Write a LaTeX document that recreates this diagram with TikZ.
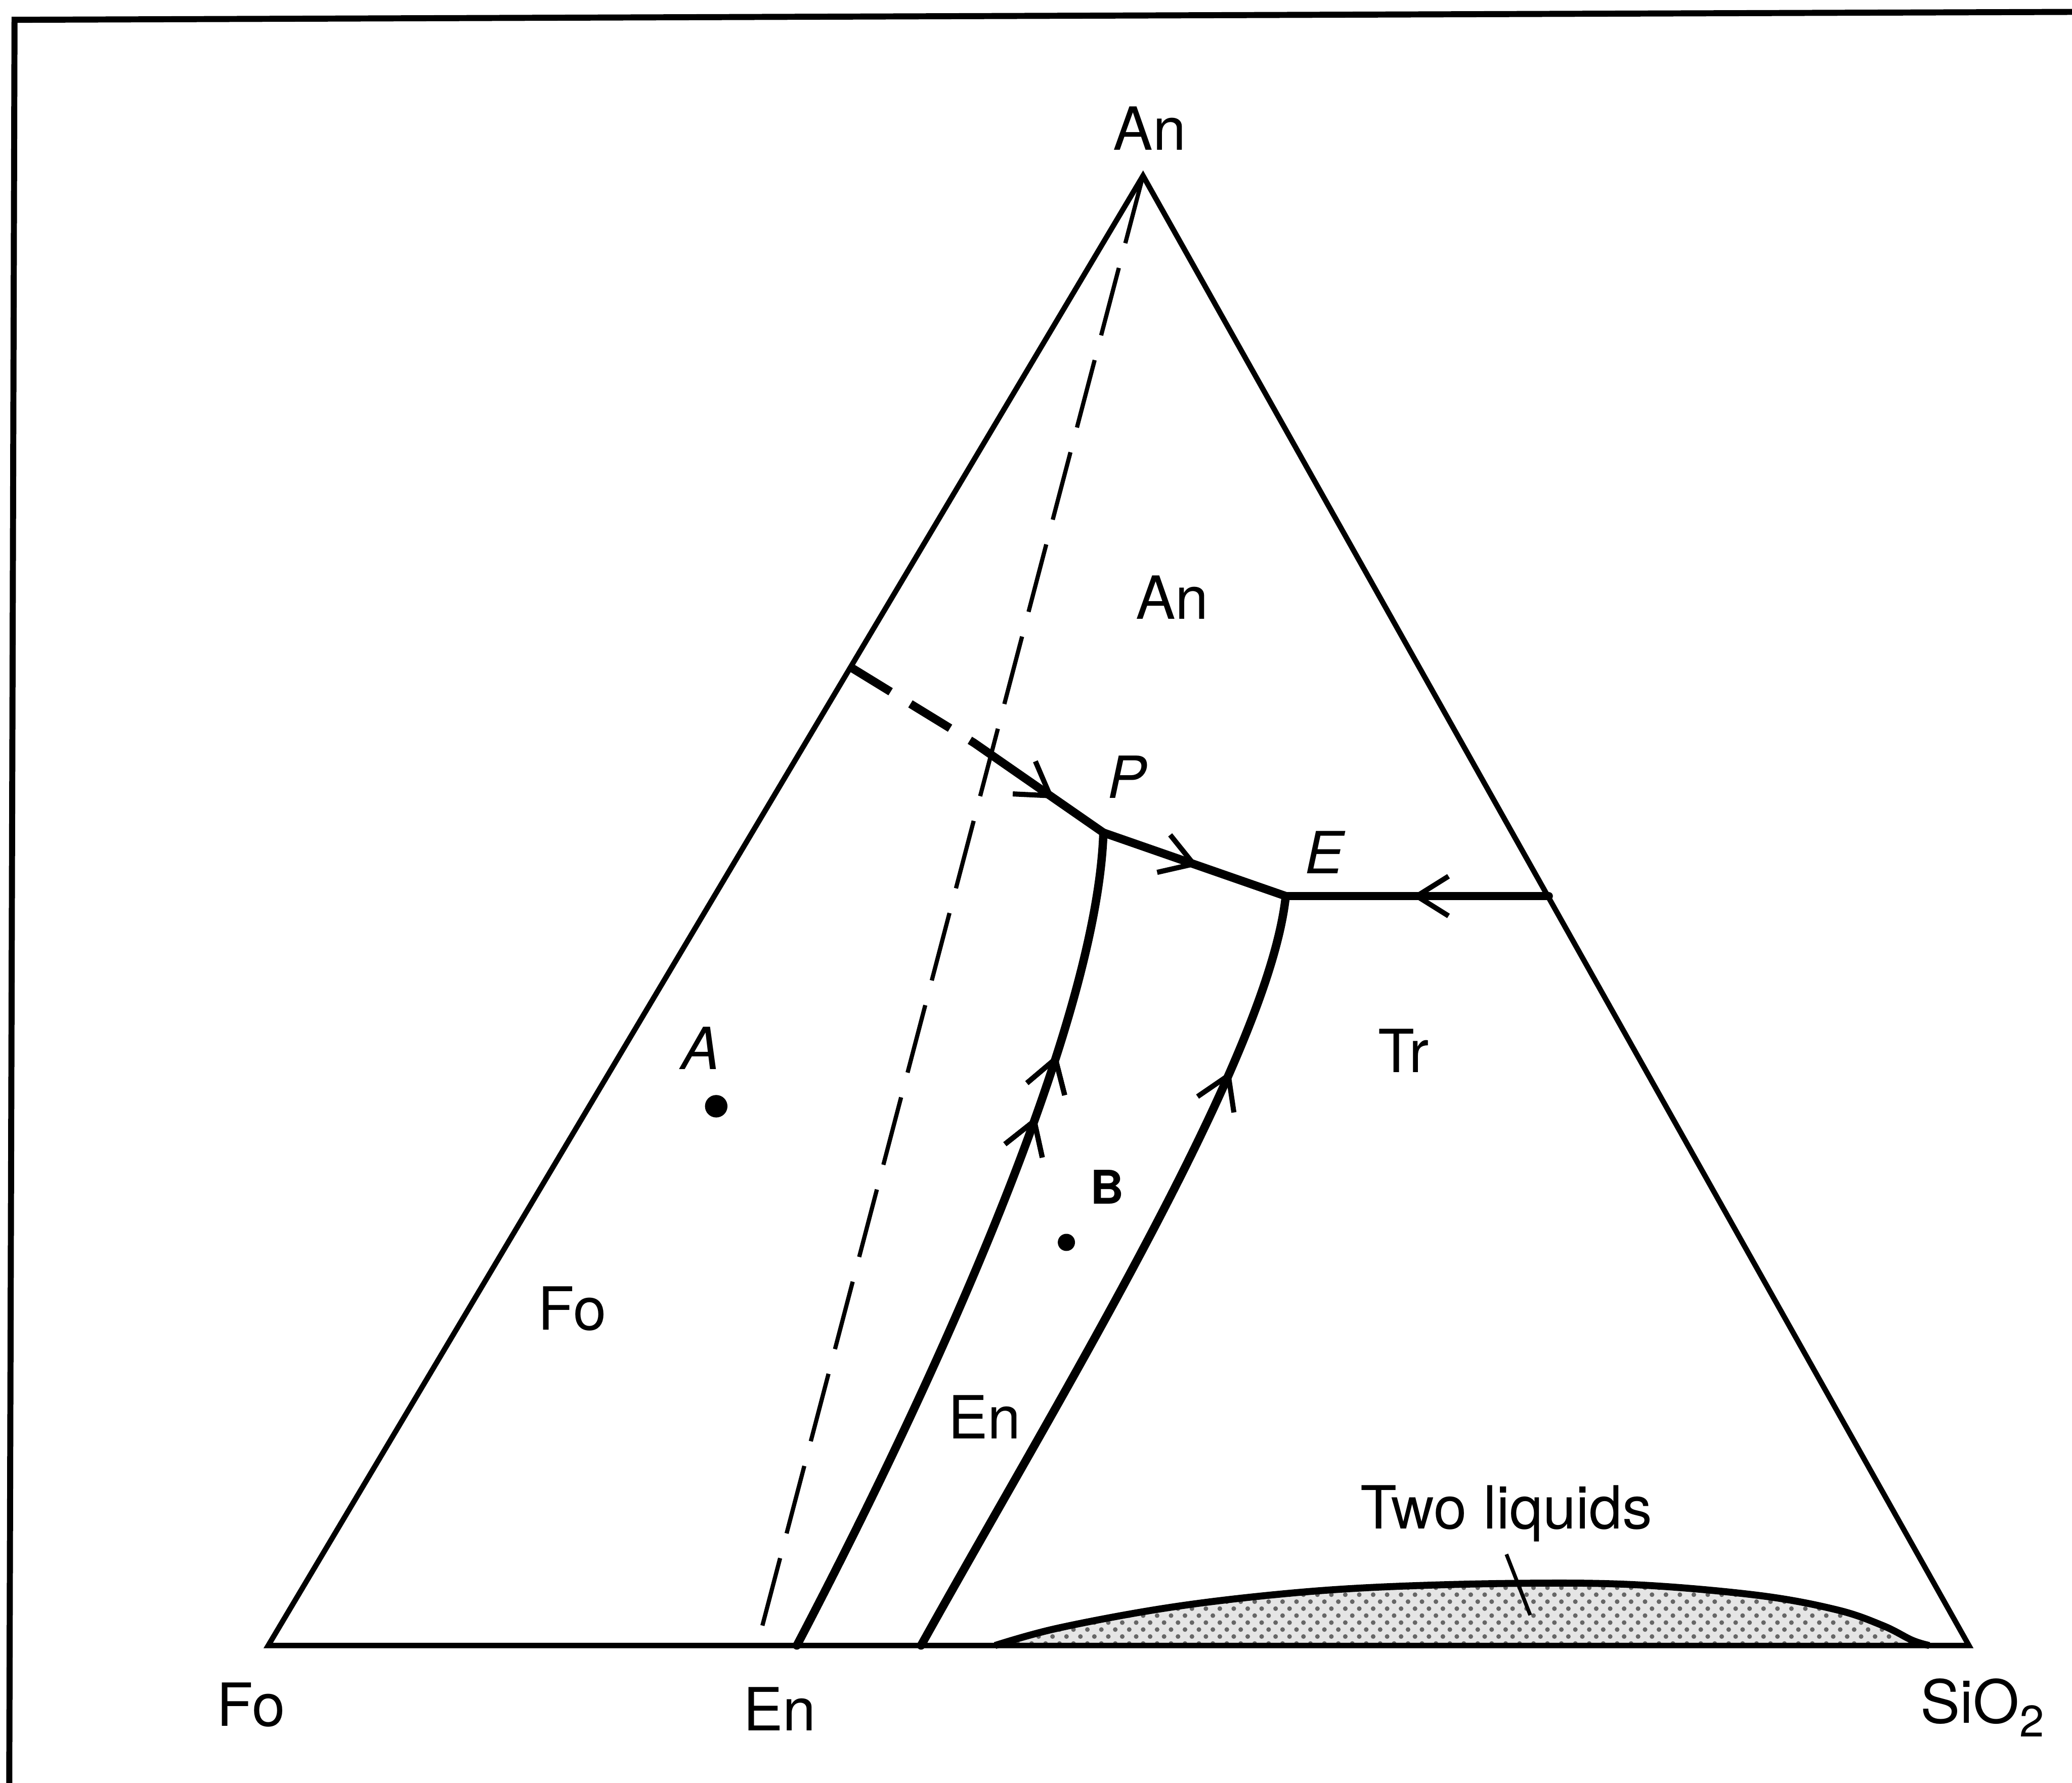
\documentclass[tikz,border=0pt]{standalone}
\usepackage{fontspec}
\setmainfont{TeX Gyre Heros}
\usetikzlibrary{arrows.meta,decorations.markings,patterns}
\tikzset{
  barbtip/.tip={Straight Barb[length=0.24cm,width=0.3cm,line width=1.1pt]},
  midarrow/.style={postaction={decorate},decoration={markings,mark=at position #1 with {\arrow{barbtip}}}},
  lbl/.style={inner sep=0pt,font=\fontsize{12.8}{15}\selectfont},
  ilbl/.style={inner sep=0pt,font=\fontsize{12.5}{15}\selectfont\itshape},
  tri/.style={line width=1.15pt,line join=miter},
  bnd/.style={line width=1.8pt,line cap=round},
  joinline/.style={line width=0.9pt,dash pattern=on 15pt off 5.5pt},
  dotmark/.style={circle,fill=black,inner sep=0pt,minimum size=#1},
  frameline/.style={line width=1.3pt}
}
\begin{document}
\begin{tikzpicture}[x=0.01cm,y=-0.01cm]
\useasboundingbox (0,0) rectangle (1568,1349);
% frame (cropped scan border)
\draw[frameline] (1568,9) -- (11,15) -- (7,1349);
% vertices
\coordinate (Fo) at (203,1245);
\coordinate (Si) at (1490,1245);
\coordinate (An) at (865,133);
\coordinate (En) at (573,1245);
\coordinate (L) at (644,505);
\coordinate (Q) at (737,562);
\coordinate (P) at (835,630);
\coordinate (E) at (973,678);
\coordinate (R) at (1172,678);
\coordinate (EnB) at (603,1245);
\coordinate (TrB) at (697,1245);
% two liquids field
\def\liqpath{plot[smooth,tension=0.6] coordinates {(753,1245) (800,1232) (880,1217) (960,1207) (1040,1201) (1145,1198) (1237,1199) (1330,1207) (1390,1218) (1425,1230) (1447,1241) (1460,1245)}}
\fill[black!10] \liqpath -- cycle;
\fill[pattern=crosshatch dots,pattern color=black!60] \liqpath -- cycle;
\draw[line width=1.5pt] \liqpath;
% triangle
\draw[tri] (Fo) -- (An) -- (Si) -- cycle;
% join An-En
\draw[joinline] (An) -- (En);
% boundary curves
\draw[bnd,dash pattern=on 10pt off 5pt,line cap=butt] (L) -- (Q);
\draw[bnd,midarrow=0.62] (Q) -- (P);
\draw[bnd,midarrow=0.52] (P) -- (E);
\draw[bnd,midarrow=0.52] (R) -- (E);
\draw[bnd,midarrow=0.665,midarrow=0.74] (EnB) .. controls (700,1060) and (830,780) .. (P);
\draw[bnd,midarrow=0.78] (TrB) .. controls (800,1060) and (960,800) .. (E);
% points
\node[dotmark=0.17cm] (dotA) at (542,837) {};
\node[dotmark=0.13cm] (dotB) at (807,940) {};
% vertex labels
\node[lbl] (lAn) at (870,97) {An};
\node[lbl] (lFo) at (190,1290) {Fo};
\node[lbl] (lEn) at (590,1293) {En};
\node[lbl] (lSi) at (1500,1292) {SiO\raisebox{-0.45ex}{\fontsize{9.5}{10}\selectfont 2}};
% field labels
\node[lbl] (fAn) at (887,452) {An};
\node[lbl] (fFo) at (433,990) {Fo};
\node[lbl] (fEn) at (745,1072) {En};
\node[lbl] (fTr) at (1062,795) {Tr};
\node[lbl] (fTL) at (1140,1145) {Two liquids};
\coordinate (lead) at (1158,1222);
\draw[line width=0.8pt] (1140,1176) -- (lead);
% point labels
\node[ilbl] (lA) at (530,793) {A};
\node[inner sep=0pt,font=\fontsize{10}{12}\selectfont\bfseries] (lB) at (838,898) {B};
\node[ilbl] (lP) at (853,588) {P};
\node[ilbl] (lE) at (1002,645) {E};
\end{tikzpicture}
\end{document}
